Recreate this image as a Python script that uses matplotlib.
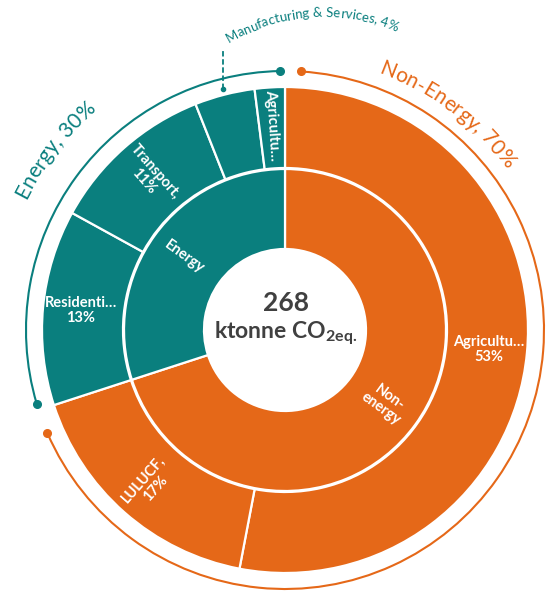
import matplotlib
matplotlib.use('Agg')
import matplotlib.pyplot as plt
import numpy as np
from matplotlib.patches import Arc
from matplotlib.font_manager import FontProperties, findfont, get_font
from matplotlib.ft2font import LOAD_NO_HINTING

# inner ring, clockwise from 12 o'clock
parent_names = ['Non-energy', 'Energy']
parent_values = [70, 30]
parent_labels = ['Non-\nenergy', 'Energy']
parent_titles = ['Non-Energy, 70%', 'Energy, 30%']

# outer ring, clockwise from 12 o'clock
sector_names = ['Agriculture', 'LULUCF', 'Residential', 'Transport',
                'Manufacturing & Services', 'Agriculture']
sector_values = [53, 17, 13, 11, 4, 2]
sector_parent = [0, 0, 1, 1, 1, 1]
sector_labels = ['Agricultu…\n53%', 'LULUCF,\n17%', 'Residenti…\n13%',
                 'Transport,\n11%', '', 'Agricultu…']
sector_radial = [False, True, False, True, True, True]
callout_text = 'Manufacturing & Services, 4%'

total = 268

TEAL = '#0a7f7e'
ORANGE = '#e56818'
GREY = '#404040'
parent_colors = [ORANGE, TEAL]

DPI = 100
W, H = 547, 592
CX, CY = 285, 262
R_HOLE, R_MID, R_OUT = 81, 161, 243
R_ARC = 259
FONT = 'Lato'

plt.rcParams['font.family'] = FONT
plt.rcParams['mathtext.fontset'] = 'custom'
plt.rcParams['mathtext.bf'] = 'Lato:bold'
plt.rcParams['mathtext.rm'] = 'Lato'


def radial_rot(mid):
    m = mid % 360
    return m - 180 if 90 < m < 270 else m


def curved_text(ax, s, cx, cy, r, ang, size, color, weight='normal'):
    # lay characters one by one along a circle, reading clockwise
    fp = FontProperties(family=FONT, size=size, weight=weight)
    font = get_font(findfont(fp))
    font.set_size(size, DPI)
    adv = [font.load_char(ord(c), flags=LOAD_NO_HINTING).linearHoriAdvance / 65536
           for c in s]
    pos = np.cumsum(adv) - np.array(adv) / 2 - sum(adv) / 2
    for c, p in zip(s, pos):
        a = ang - np.degrees(p / r)
        x = cx + r * np.cos(np.radians(a))
        y = cy + r * np.sin(np.radians(a))
        ax.text(x, y, c, fontproperties=fp, color=color, rotation=a - 90,
                rotation_mode='anchor', ha='center', va='baseline')


fig = plt.figure(figsize=(W / DPI, H / DPI), dpi=DPI)
ax = fig.add_axes([0, 0, 1, 1])

sector_colors = [parent_colors[p] for p in sector_parent]
outer, _ = ax.pie(sector_values, radius=R_OUT, center=(CX, CY), startangle=90,
                  counterclock=False, colors=sector_colors,
                  wedgeprops=dict(width=R_OUT - R_MID - 1, edgecolor='white', linewidth=1.6))
inner, _ = ax.pie(parent_values, radius=R_MID, center=(CX, CY), startangle=90,
                  counterclock=False, colors=parent_colors,
                  wedgeprops=dict(width=R_MID - R_HOLE, edgecolor='white', linewidth=1.6))

# outer ring labels
for w, lab, radial in zip(outer, sector_labels, sector_radial):
    if not lab:
        continue
    mid = (w.theta1 + w.theta2) / 2
    x = CX + 205 * np.cos(np.radians(mid))
    y = CY + 205 * np.sin(np.radians(mid))
    rot = radial_rot(mid) if radial else 0
    ax.text(x, y, lab, color='white', fontsize=10.5, fontweight='bold', ha='center',
            va='center', ma='center', rotation=rot, rotation_mode='anchor',
            linespacing=1.1)

# inner ring labels
for w, lab in zip(inner, parent_labels):
    mid = (w.theta1 + w.theta2) / 2
    x = CX + 124 * np.cos(np.radians(mid))
    y = CY + 124 * np.sin(np.radians(mid))
    ax.text(x, y, lab, color='white', fontsize=10.5, fontweight='bold', ha='center',
            va='center', ma='center', rotation=radial_rot(mid), rotation_mode='anchor',
            linespacing=1.0)

# bracket arcs around each parent group
arc_gaps = [(5.4, 3.5), (1.0, 1.5)]
title_pos = [(273, 53), (290, 142)]
for w, col, gap, title, (tr, ta) in zip(inner, parent_colors, arc_gaps,
                                        parent_titles, title_pos):
    t1, t2 = w.theta1 + gap[0], w.theta2 - gap[1]
    ax.add_patch(Arc((CX, CY), 2 * R_ARC, 2 * R_ARC, theta1=t1, theta2=t2,
                     color=col, lw=1.5))
    for t in (t1, t2):
        ax.plot(CX + R_ARC * np.cos(np.radians(t)), CY + R_ARC * np.sin(np.radians(t)),
                'o', color=col, ms=5.5)
    curved_text(ax, title, CX, CY, tr, ta, 15, col)

# call-out for the small Manufacturing & Services slice
w = outer[sector_names.index('Manufacturing & Services')]
mid = (w.theta1 + w.theta2) / 2
x0 = CX + 249 * np.cos(np.radians(mid))
y0 = CY + 249 * np.sin(np.radians(mid))
ax.plot([x0, x0], [y0, 542], color=TEAL, lw=1.3, ls=(0, (3, 1.5)))
ax.plot(x0, y0, 'o', color=TEAL, ms=3)
curved_text(ax, callout_text, 324, 389, 186, 94, 9.5, TEAL)

# centre total
ax.text(CX + 1, 289, str(total), color=GREY, fontsize=19, fontweight='bold',
        ha='center', va='center')
ax.text(CX + 1, 258, r'ktonne CO$_{\mathbf{2eq.}}$', color=GREY, fontsize=16.5,
        fontweight='bold', ha='center', va='center')

ax.set_xlim(0, W)
ax.set_ylim(0, H)
ax.set_aspect('equal')
ax.axis('off')
fig.savefig('out.png', dpi=DPI, facecolor='white')
